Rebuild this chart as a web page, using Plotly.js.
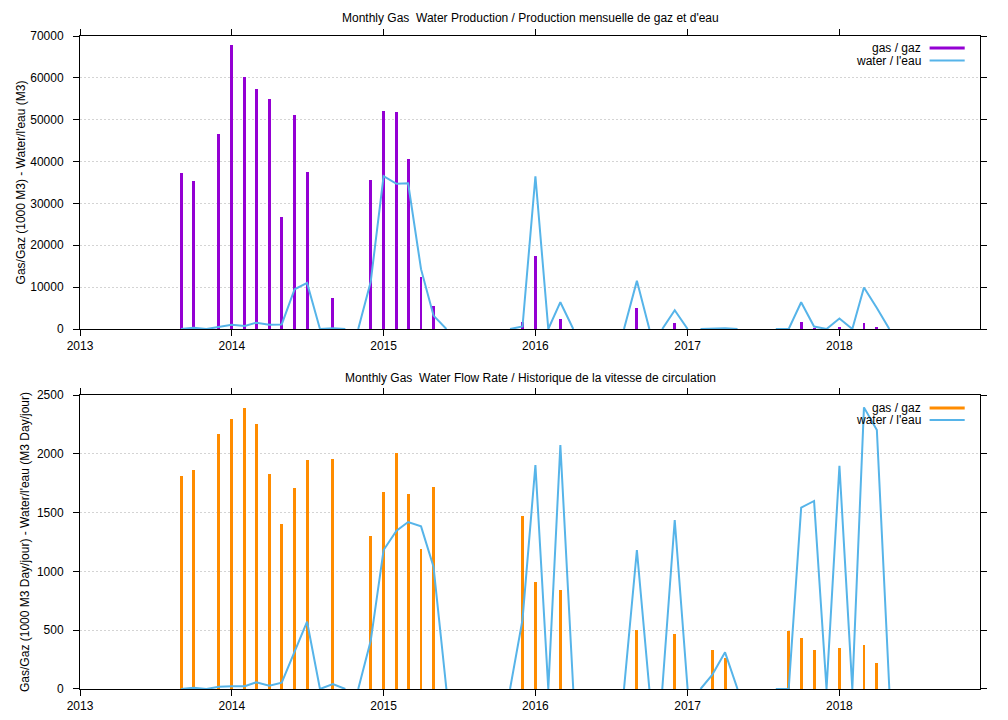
<!DOCTYPE html>
<html>
<head>
<meta charset="utf-8">
<script src="https://cdn.plot.ly/plotly-3.0.1.min.js"></script>
<style>html,body{margin:0;padding:0;background:#fff;}#chart{width:1008px;height:720px;}</style>
</head>
<body>
<div id="chart"></div>
<script>
// Gas (bars): months with a gas record
const gasMonths = ['2013-09-01','2013-10-01','2013-12-01','2014-01-01','2014-02-01','2014-03-01','2014-04-01','2014-05-01','2014-06-01','2014-07-01','2014-09-01','2014-12-01','2015-01-01','2015-02-01','2015-03-01','2015-04-01','2015-05-01','2015-12-01','2016-01-01','2016-03-01','2016-09-01','2016-12-01','2017-03-01','2017-04-01','2017-09-01','2017-10-01','2017-11-01','2018-01-01','2018-03-01','2018-04-01'];
// Monthly gas production (1000 M3)
const gasProd = [37300,35400,46500,67800,60100,57300,54900,26700,51100,37600,7400,35700,52100,51800,40600,12400,5400,1600,17500,2500,4900,1400,200,200,300,1700,150,400,1400,400];
// Gas flow rate (1000 M3 / day)
const gasRate = [1815,1865,2168,2296,2387,2253,1831,1400,1709,1945,1956,1301,1672,2004,1658,1188,1715,1473,910,842,505,468,329,261,493,434,329,352,374,221];

// Water (line): null marks a break in the record
const waterMonths = ['2013-09-01','2013-10-01','2013-11-01','2013-12-01','2014-01-01','2014-02-01','2014-03-01','2014-04-01','2014-05-01','2014-06-01','2014-07-01','2014-08-01','2014-09-01','2014-10-01',null,
  '2014-11-01','2014-12-01','2015-01-01','2015-02-01','2015-03-01','2015-04-01','2015-05-01','2015-06-01',null,
  '2015-11-01','2015-12-01','2016-01-01','2016-02-01','2016-03-01','2016-04-01',null,
  '2016-08-01','2016-09-01','2016-10-01',null,
  '2016-11-01','2016-12-01','2017-01-01',null,
  '2017-02-01','2017-03-01','2017-04-01','2017-05-01',null,
  '2017-08-01','2017-09-01','2017-10-01','2017-11-01','2017-12-01','2018-01-01','2018-02-01','2018-03-01','2018-04-01','2018-05-01'];
// Monthly water production (M3)
const waterProd = [0,300,0,500,1000,700,1500,1000,1100,9500,11000,0,200,0,null,
  0,11300,36500,34700,34800,14300,3200,0,null,
  0,600,36500,0,6400,0,null,
  0,11500,0,null,
  0,4500,0,null,
  0,100,200,0,null,
  0,0,6400,600,0,2500,0,9900,5000,0];
// Water flow rate (M3 / day)
const waterRate = [0,10,0,20,23,23,57,28,54,310,572,0,42,0,null,
  0,410,1182,1346,1420,1383,1040,0,null,
  0,590,1905,0,2075,0,null,
  0,1182,0,null,
  0,1437,0,null,
  0,119,312,0,null,
  0,0,1542,1599,0,1899,0,2395,2202,0];

const topTitle = 'Monthly Gas  Water Production / Production mensuelle de gaz et d\'eau';
const botTitle = 'Monthly Gas  Water Flow Rate / Historique de la vitesse de circulation';
const topYTitle = 'Gas/Gaz (1000 M3) - Water/l\'eau (M3)';
const botYTitle = 'Gas/Gaz (1000 M3 Day/jour) - Water/l\'eau (M3 Day/jour)';
const legGas = 'gas / gaz';
const legWater = 'water / l\'eau';

const PURPLE = '#9400d3', ORANGE = '#ff8c00', BLUE = '#56b4e9';
const barW = 7 * 86400000;
const FONT = 'Liberation Sans, Arial, sans-serif';

const traces = [
  {type:'bar', x:gasMonths, y:gasProd, xaxis:'x', yaxis:'y', width:barW, marker:{color:PURPLE, line:{width:0}}, showlegend:false},
  {type:'scatter', mode:'lines', x:waterMonths, y:waterProd, xaxis:'x', yaxis:'y', connectgaps:false, line:{color:BLUE, width:2}, showlegend:false},
  {type:'bar', x:gasMonths, y:gasRate, xaxis:'x2', yaxis:'y2', width:barW, marker:{color:ORANGE, line:{width:0}}, showlegend:false},
  {type:'scatter', mode:'lines', x:waterMonths, y:waterRate, xaxis:'x2', yaxis:'y2', connectgaps:false, line:{color:BLUE, width:2}, showlegend:false}
];

const xCommon = {
  type:'date', range:['2013-01-01','2018-12-05'], tickformat:'%Y', dtick:'M12', tick0:'2013-01-01',
  showgrid:false, zeroline:false, showline:true, linecolor:'#000', linewidth:1, mirror:'ticks',
  ticks:'outside', ticklen:6, tickcolor:'#000', tickfont:{family:FONT, size:12, color:'#000'}
};
const yCommon = {
  showgrid:true, gridcolor:'#d4d4d4', griddash:'2px,2px', gridwidth:1, zeroline:false,
  showline:true, linecolor:'#000', linewidth:1, mirror:'ticks', ticks:'outside', ticklen:6, tickcolor:'#000',
  tickformat:'d', separatethousands:false, ticklabelstandoff:7,
  tickfont:{family:FONT, size:12, color:'#000'}
};

const layout = {
  width:1008, height:720,
  margin:{l:80, r:28, t:36, b:31},
  paper_bgcolor:'#fff', plot_bgcolor:'#fff',
  font:{family:FONT, size:12, color:'#000'},
  bargap:0,
  showlegend:false,
  xaxis: Object.assign({}, xCommon, {anchor:'y', domain:[0,1]}),
  xaxis2: Object.assign({}, xCommon, {anchor:'y2', domain:[0,1]}),
  yaxis: Object.assign({}, yCommon, {anchor:'x', domain:[0.5513,1], range:[0,70000], dtick:10000,
    title:{text:topYTitle, font:{family:FONT, size:12}, standoff:2}}),
  yaxis2: Object.assign({}, yCommon, {anchor:'x2', domain:[0,0.4502], range:[0,2500], dtick:500,
    title:{text:botYTitle, font:{family:FONT, size:12}, standoff:4}}),
  annotations:[
    {text:topTitle, xref:'x domain', yref:'y domain', x:0.5, y:1, yshift:18, xanchor:'center', yanchor:'middle', showarrow:false, font:{family:FONT, size:12}},
    {text:botTitle, xref:'x2 domain', yref:'y2 domain', x:0.5, y:1, yshift:17, xanchor:'center', yanchor:'middle', showarrow:false, font:{family:FONT, size:12}},
    {text:legGas, xref:'x domain', yref:'y domain', x:0.9367, y:0.959, xanchor:'right', yanchor:'middle', showarrow:false, font:{family:FONT, size:12}},
    {text:legWater, xref:'x domain', yref:'y domain', x:0.9367, y:0.916, xanchor:'right', yanchor:'middle', showarrow:false, font:{family:FONT, size:12}},
    {text:legGas, xref:'x2 domain', yref:'y2 domain', x:0.9367, y:0.956, xanchor:'right', yanchor:'middle', showarrow:false, font:{family:FONT, size:12}},
    {text:legWater, xref:'x2 domain', yref:'y2 domain', x:0.9367, y:0.915, xanchor:'right', yanchor:'middle', showarrow:false, font:{family:FONT, size:12}}
  ],
  shapes:[
    {type:'line', xref:'x domain', yref:'y domain', x0:0.944, x1:0.983, y0:0.959, y1:0.959, line:{color:PURPLE, width:3}},
    {type:'line', xref:'x domain', yref:'y domain', x0:0.944, x1:0.983, y0:0.916, y1:0.916, line:{color:BLUE, width:2}},
    {type:'line', xref:'x2 domain', yref:'y2 domain', x0:0.944, x1:0.983, y0:0.956, y1:0.956, line:{color:ORANGE, width:3}},
    {type:'line', xref:'x2 domain', yref:'y2 domain', x0:0.944, x1:0.983, y0:0.915, y1:0.915, line:{color:BLUE, width:2}}
  ]
};

Plotly.newPlot('chart', traces, layout, {staticPlot:true, displayModeBar:false});
</script>
</body>
</html>
